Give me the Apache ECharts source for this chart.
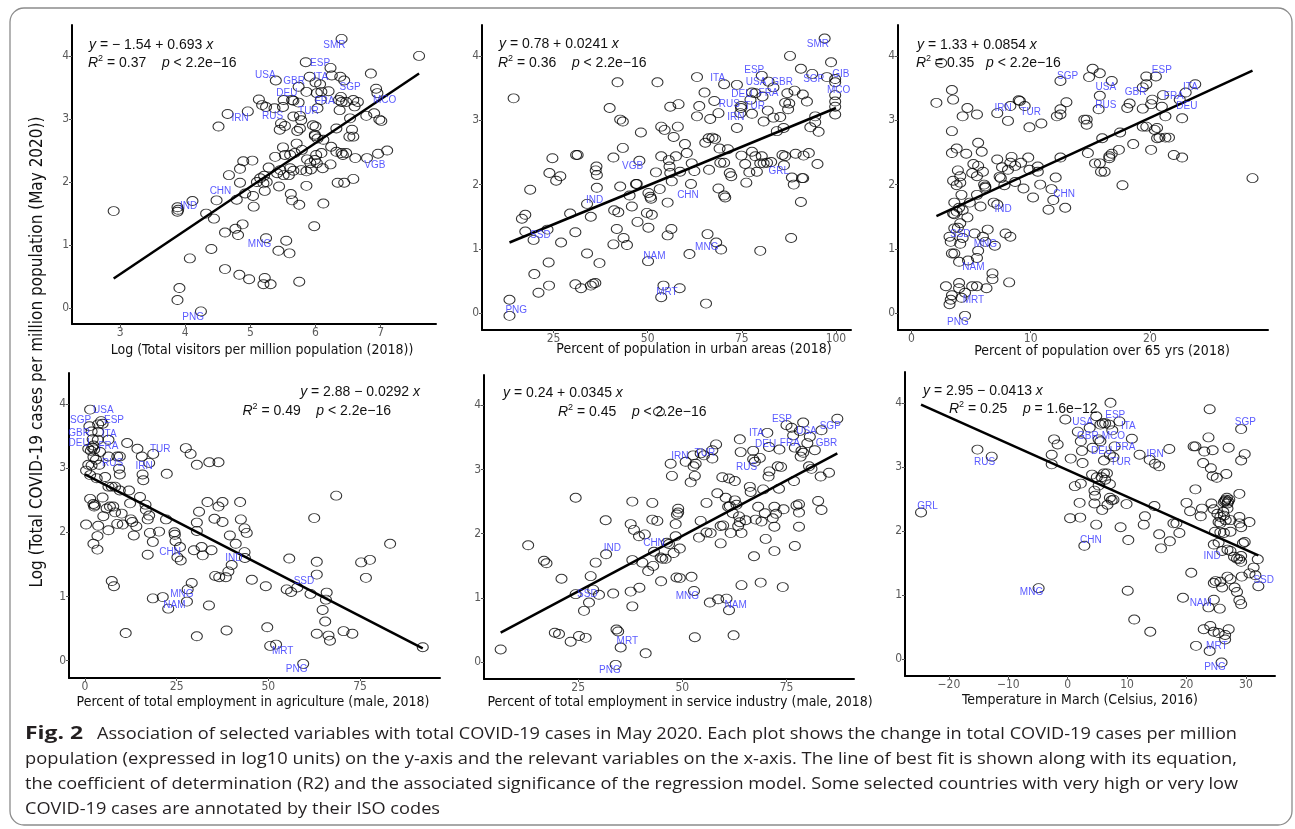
<!DOCTYPE html>
<html>
<head>
<meta charset="utf-8">
<script src="https://cdn.jsdelivr.net/npm/echarts@6.0.0/dist/echarts.min.js"></script>
<style>
html, body { margin: 0; padding: 0; background: #fff; }
#wrap { position: relative; width: 1295px; height: 829px; }
#chart { position: absolute; left: 0; top: 0; width: 1295px; height: 829px; }
#cap { position: absolute; left: 0; top: 0; pointer-events: none; }
#cap text { font-family: "Open Sans", "Noto Sans", sans-serif; font-size: 17px; fill: #231f20; }
</style>
</head>
<body>
<div id="wrap">
<div id="chart"></div>
<svg id="cap" width="1295" height="829">
  <rect x="10" y="8" width="1282" height="817" rx="14" ry="14" fill="none" stroke="#8c8c8c" stroke-width="1.3"></rect>
  <text x="25" y="739" textLength="58" lengthAdjust="spacingAndGlyphs" style="font-weight:bold;font-size:18px">Fig. 2</text>
  <text x="97" y="739" textLength="1140" lengthAdjust="spacingAndGlyphs">Association of selected variables with total COVID-19 cases in May 2020. Each plot shows the change in total COVID-19 cases per million</text>
  <text x="25" y="764" textLength="1212" lengthAdjust="spacingAndGlyphs">population (expressed in log10 units) on the y-axis and the relevant variables on the x-axis. The line of best fit is shown along with its equation,</text>
  <text x="25" y="789" textLength="1213" lengthAdjust="spacingAndGlyphs">the coefficient of determination (R2) and the associated significance of the regression model. Some selected countries with very high or very low</text>
  <text x="25" y="814" textLength="415" lengthAdjust="spacingAndGlyphs">COVID-19 cases are annotated by their ISO codes</text>
</svg>
</div>
<script>
// ---- data: [x, log10 cases per million] ----
var visitorsPoints = [[2.90,1.54],[3.88,1.60],[3.88,1.53],[3.89,1.56],[4.11,1.70],[3.91,0.32],[3.88,0.13],[4.24,-0.05],[4.07,0.79],[4.40,0.94],[4.32,1.50],[4.44,1.42],[4.48,1.71],[4.51,2.88],[4.65,3.08],[4.96,3.12],[4.61,1.20],[4.61,0.62],[4.77,1.26],[4.81,1.16],[4.88,1.33],[4.83,0.53],[4.98,0.46],[4.67,2.11],[4.84,2.21],[4.89,2.33],[4.84,1.99],[5.03,2.34],[4.79,1.72],[4.92,1.82],[5.04,1.78],[5.05,1.61],[5.10,2.00],[5.15,2.06],[5.20,1.98],[5.25,2.00],[5.22,1.86],[5.21,2.10],[5.28,2.23],[5.24,1.11],[5.22,0.48],[5.20,0.38],[5.31,0.38],[5.44,1.93],[5.43,0.91],[5.55,1.07],[5.60,0.87],[5.75,0.42],[5.62,1.81],[5.64,1.71],[5.75,1.64],[5.86,1.94],[5.98,1.30],[6.12,1.66],[5.41,2.14],[5.46,2.19],[5.51,2.11],[5.59,2.11],[5.61,2.22],[5.66,2.18],[5.38,2.40],[5.50,2.55],[5.53,2.43],[5.61,2.43],[5.68,2.46],[5.71,2.61],[5.79,2.51],[5.78,2.19],[5.86,2.17],[5.92,2.30],[5.93,2.20],[5.99,2.35],[5.87,2.36],[6.01,2.43],[6.02,2.30],[6.09,2.46],[6.11,2.22],[5.99,2.75],[6.03,2.69],[6.12,2.67],[6.24,2.56],[6.23,2.28],[6.32,2.48],[6.40,2.46],[6.42,2.43],[6.47,2.46],[6.34,1.99],[6.44,1.99],[6.58,2.05],[6.61,2.38],[6.79,2.38],[6.96,2.45],[7.10,2.50],[5.45,2.83],[5.47,2.93],[5.53,2.89],[5.13,3.31],[5.18,3.22],[5.24,3.19],[5.37,3.17],[5.50,3.19],[5.39,3.61],[5.51,3.30],[5.64,3.30],[5.66,3.29],[5.74,3.26],[5.74,3.51],[5.86,3.43],[5.91,3.67],[5.85,3.90],[6.00,3.58],[6.07,3.55],[6.09,3.43],[6.02,3.41],[6.20,3.44],[6.23,3.81],[6.25,3.69],[6.38,3.67],[6.44,3.61],[6.40,4.27],[7.59,4.00],[6.85,3.72],[6.93,3.48],[6.95,3.41],[6.90,3.09],[7.01,2.97],[6.98,2.99],[6.78,3.05],[5.66,3.04],[5.76,3.05],[5.78,2.98],[5.76,2.85],[5.72,2.81],[6.03,3.17],[6.32,2.85],[6.37,3.14],[6.40,3.27],[6.47,3.27],[6.58,3.30],[6.60,3.20],[6.53,3.01],[6.65,3.27],[6.56,2.83],[6.58,2.72],[6.52,2.72],[6.08,3.30],[6.39,3.35],[6.36,3.30],[5.99,2.73],[5.96,2.90],[6.00,2.88]];
var urbanPoints = [[14.4,3.34],[13.3,0.21],[13.3,-0.04],[16.6,1.47],[17.5,1.53],[18.8,1.92],[17.5,1.27],[19.7,1.14],[19.9,0.61],[21.0,0.32],[23.7,0.79],[23.8,0.43],[23.4,1.30],[24.7,2.41],[23.9,2.18],[25.7,2.06],[26.8,2.13],[27.0,1.10],[29.4,1.55],[30.8,1.26],[30.8,0.45],[32.3,0.39],[33.9,0.93],[34.9,1.50],[34.9,0.43],[35.5,0.46],[36.1,0.47],[37.2,0.78],[31.0,2.46],[31.4,2.46],[33.9,1.70],[36.4,2.28],[36.2,2.22],[36.5,2.15],[36.5,1.95],[39.9,3.19],[42.7,3.01],[43.4,2.98],[40.9,2.42],[43.4,2.57],[42.0,3.59],[42.7,1.97],[41.1,1.60],[42.2,1.57],[41.8,1.31],[40.9,1.07],[43.6,1.17],[44.5,1.06],[45.2,1.83],[45.8,1.66],[47.3,1.42],[46.9,2.01],[47.1,2.01],[47.8,2.37],[48.2,2.81],[50.2,1.87],[50.7,1.81],[50.9,1.78],[49.8,1.56],[51.1,1.53],[50.2,1.33],[50.1,0.81],[52.2,2.19],[53.2,1.93],[53.6,2.90],[54.5,2.85],[53.6,2.44],[55.3,1.72],[55.6,2.38],[56.0,3.21],[52.6,3.59],[55.8,2.28],[56.0,2.18],[56.4,2.05],[56.9,2.74],[57.5,2.44],[58.2,3.25],[58.0,2.90],[58.6,2.20],[59.9,2.63],[60.4,2.49],[56.3,1.31],[55.3,1.21],[54.2,0.43],[53.6,0.25],[58.5,0.39],[61.1,0.92],[61.5,2.01],[61.7,2.33],[62.4,2.21],[63.1,3.67],[63.1,3.06],[63.7,3.22],[65.1,3.43],[66.6,3.02],[67.7,3.30],[68.8,3.11],[65.3,2.65],[66.2,2.72],[67.2,2.73],[67.9,2.71],[66.3,2.23],[68.8,1.94],[69.1,2.56],[69.3,2.34],[70.3,2.34],[70.3,1.83],[70.6,1.80],[71.3,2.55],[71.8,2.18],[72.2,2.13],[65.9,1.23],[68.2,1.10],[69.5,0.99],[65.5,0.15],[70.3,3.56],[73.7,3.55],[74.8,3.22],[74.8,3.19],[74.6,3.11],[73.7,2.88],[74.9,2.45],[75.9,2.32],[76.2,2.03],[77.0,2.19],[77.7,2.51],[77.7,3.10],[77.3,3.32],[77.7,3.43],[78.6,3.42],[80.5,3.37],[80.8,2.98],[81.9,3.15],[80.3,3.69],[82.1,3.60],[83.4,3.51],[78.6,2.44],[79.0,2.20],[79.9,2.33],[80.3,2.44],[80.8,2.33],[81.7,2.34],[82.8,2.35],[79.9,0.97],[83.4,3.04],[84.3,2.83],[85.2,3.05],[86.1,2.88],[86.5,3.27],[87.1,3.42],[87.8,4.00],[87.3,3.17],[87.6,3.26],[85.8,2.46],[86.2,2.30],[86.5,2.44],[88.3,2.11],[88.8,2.00],[88.1,1.17],[89.0,3.46],[90.7,3.80],[91.2,3.40],[92.3,3.29],[93.7,3.72],[89.3,2.48],[91.0,2.10],[91.3,2.10],[91.4,2.45],[92.8,2.49],[90.7,1.73],[93.2,2.89],[94.5,3.06],[94.5,2.97],[95.4,2.82],[95.1,2.32],[97.0,4.27],[98.7,3.90],[97.6,3.67],[99.8,3.64],[99.8,3.59],[99.8,3.39],[99.8,3.29],[99.8,3.21],[99.8,3.09]];
var elderlyPoints = [[2.1,3.27],[2.5,3.89],[3.4,3.47],[3.5,3.32],[3.4,2.83],[3.8,2.56],[3.4,2.49],[4.3,3.06],[4.7,3.19],[5.5,3.09],[4.6,2.48],[5.6,2.65],[5.9,2.51],[3.9,2.22],[4.1,2.13],[3.5,2.06],[3.8,1.99],[4.1,2.03],[4.2,1.84],[3.6,1.72],[4.0,1.64],[4.3,1.60],[4.7,1.49],[3.5,1.55],[3.6,1.54],[3.8,1.58],[4.1,1.40],[3.9,1.33],[3.6,1.32],[3.2,1.19],[3.3,1.11],[3.4,0.93],[3.6,0.93],[4.1,1.08],[4.3,1.17],[4.0,0.80],[2.9,0.42],[3.4,0.28],[3.3,0.21],[3.2,0.14],[4.0,0.47],[4.0,0.39],[4.2,0.24],[4.5,0.32],[4.5,-0.04],[4.75,0.82],[5.1,0.42],[5.5,0.42],[6.3,0.39],[4.9,1.72],[5.1,2.18],[5.2,2.32],[5.5,2.13],[5.6,2.29],[6.0,2.20],[5.8,1.66],[5.5,1.84],[5.3,1.24],[5.6,0.97],[5.5,0.86],[6.0,1.19],[6.4,1.30],[6.2,1.11],[7.0,1.05],[6.1,2.00],[6.2,1.95],[6.2,1.97],[6.8,0.62],[6.8,0.53],[6.9,1.72],[7.2,1.69],[7.2,3.11],[7.2,2.39],[7.4,2.12],[7.5,2.10],[7.6,2.27],[7.8,1.99],[7.9,1.24],[8.1,2.23],[8.4,2.43],[8.3,2.34],[8.2,0.48],[8.3,1.19],[8.1,2.99],[8.3,3.22],[9.0,3.31],[9.1,3.30],[9.5,3.22],[8.7,2.29],[8.7,2.04],[9.2,2.34],[9.4,1.94],[9.8,2.42],[9.9,2.23],[10.6,2.28],[10.6,2.20],[10.8,2.00],[10.2,1.80],[9.9,2.89],[10.9,2.95],[11.5,1.61],[11.75,1.93],[11.9,1.76],[12.1,2.11],[12.9,1.64],[12.2,3.06],[12.5,3.09],[12.5,3.17],[13.0,3.28],[12.5,2.42],[12.5,3.61],[14.5,3.01],[14.7,2.93],[14.7,3.01],[14.8,2.49],[14.9,3.67],[15.2,3.80],[15.8,3.73],[16.8,3.61],[15.8,3.38],[15.7,3.17],[15.4,2.33],[15.8,2.33],[15.9,2.20],[16.2,2.20],[16.0,2.72],[16.6,2.41],[16.6,2.44],[16.8,2.48],[17.5,2.81],[17.4,2.54],[17.7,1.99],[18.6,2.63],[18.1,3.19],[18.3,3.26],[19.4,3.51],[19.7,3.56],[19.7,3.68],[20.2,3.32],[20.1,3.25],[19.4,3.18],[19.4,2.90],[19.7,2.90],[20.5,3.68],[20.1,2.54],[20.4,2.85],[20.6,2.88],[20.6,2.72],[20.8,2.73],[21.0,3.21],[21.1,3.39],[21.3,3.06],[21.3,2.73],[21.6,2.73],[22.0,2.46],[22.7,2.42],[22.7,3.03],[22.5,3.32],[23.0,3.43],[23.8,3.56],[28.6,2.10]];
var agriculturePoints = [[1.4,3.91],[1.2,3.65],[1.8,3.57],[2.1,3.45],[2.3,3.35],[2.0,3.32],[0.9,3.30],[1.6,3.27],[2.5,3.29],[3.6,3.68],[4.4,3.73],[4.8,3.69],[3.6,3.56],[3.5,3.44],[6.4,3.44],[4.1,3.25],[2.3,3.17],[3.0,3.13],[3.9,3.05],[0.9,3.05],[1.8,3.04],[6.4,3.18],[8.8,3.18],[9.5,3.18],[0.3,2.96],[1.4,2.89],[3.2,2.84],[5.5,2.86],[6.4,2.71],[7.3,2.71],[8.2,2.71],[9.3,2.99],[9.5,2.90],[11.5,3.39],[14.3,3.30],[15.5,3.18],[15.7,2.90],[15.9,2.81],[17.5,3.08],[18.6,3.22],[22.3,2.91],[27.5,3.31],[28.8,3.22],[30.5,3.05],[33.9,3.09],[36.4,3.09],[1.4,2.52],[2.5,2.40],[2.3,2.44],[2.7,2.42],[4.8,2.54],[5.9,2.37],[6.8,2.40],[7.7,2.40],[5.0,2.25],[8.2,2.31],[10.0,2.29],[10.3,2.12],[8.8,2.13],[0.3,2.12],[2.3,1.82],[3.4,1.94],[3.6,2.10],[3.4,1.73],[6.4,2.03],[9.5,2.65],[12.0,2.65],[12.3,2.45],[12.9,2.16],[12.5,2.20],[14.0,2.09],[13.3,1.95],[15.0,2.55],[16.5,2.43],[16.6,2.35],[17.1,2.20],[17.5,2.26],[17.7,1.99],[20.2,2.01],[18.5,1.85],[17.1,1.65],[22.1,2.20],[24.4,2.00],[24.5,1.96],[24.7,1.86],[25.9,1.77],[25.2,1.61],[26.1,1.56],[30.5,2.15],[30.5,2.02],[29.7,1.72],[31.8,1.77],[32.1,1.64],[34.5,1.72],[35.5,1.32],[36.6,1.30],[38.4,1.30],[39.1,1.39],[40.0,1.49],[31.1,2.32],[33.4,2.47],[35.3,2.21],[36.4,2.40],[37.5,2.16],[37.5,2.47],[39.5,1.95],[41.1,1.82],[42.3,2.47],[42.5,2.20],[43.5,2.06],[44.1,1.99],[43.5,1.69],[43.6,1.60],[7.3,1.24],[7.9,1.16],[11.1,0.43],[18.5,0.97],[21.2,0.99],[22.7,0.81],[28.0,1.11],[29.1,1.21],[27.8,0.92],[30.5,0.38],[33.8,0.86],[38.6,0.47],[45.5,1.26],[49.3,1.16],[49.7,0.52],[50.5,0.23],[52.1,0.25],[55.0,1.11],[56.2,1.07],[57.9,1.14],[55.7,1.59],[59.5,-0.05],[61.5,1.04],[63.2,1.54],[63.2,1.34],[64.8,0.79],[65.5,0.61],[65.9,1.06],[65.7,0.95],[66.4,0.39],[66.8,0.31],[62.5,2.22],[63.2,0.42],[68.5,2.57],[70.5,0.46],[72.9,0.42],[75.3,1.53],[76.6,1.29],[77.7,1.57],[83.2,1.82],[92.1,0.21]];
var servicePoints = [[6.4,0.20],[13.0,1.82],[16.8,1.58],[17.4,1.54],[19.4,0.46],[20.4,0.44],[21.0,1.30],[23.2,0.32],[24.4,2.56],[24.4,1.06],[25.2,0.41],[26.8,0.38],[26.4,0.80],[27.6,0.93],[28.6,1.13],[30.0,1.05],[28.0,1.34],[29.2,1.55],[31.6,2.21],[31.7,1.68],[33.4,1.07],[34.2,0.51],[34.6,0.48],[35.2,0.23],[34.0,-0.04],[37.6,2.15],[38.4,2.06],[39.6,1.96],[41.0,1.99],[38.0,2.50],[38.0,0.87],[37.6,1.10],[38.0,1.59],[39.7,1.16],[40.4,1.55],[41.8,1.42],[43.0,1.50],[41.2,0.14],[42.8,2.48],[42.8,2.22],[44.0,2.20],[43.2,1.72],[44.8,1.63],[45.2,1.61],[46.0,1.61],[46.3,1.86],[46.8,1.84],[47.9,1.70],[49.4,1.77],[44.9,1.26],[44.4,3.90],[47.2,3.09],[47.5,2.90],[48.4,2.15],[48.4,1.96],[49.0,2.39],[49.0,2.33],[48.7,2.30],[48.6,1.32],[49.4,1.31],[50.8,3.12],[52.0,2.80],[52.6,3.22],[52.7,3.05],[53.0,2.90],[53.2,3.09],[54.4,3.25],[55.2,3.22],[57.2,3.17],[57.2,3.30],[58.1,3.39],[52.2,1.33],[52.8,1.11],[53.0,0.39],[54.0,1.94],[54.4,2.20],[55.8,2.48],[55.8,2.02],[56.8,2.01],[56.6,0.93],[58.6,0.98],[60.6,0.99],[59.2,1.85],[59.2,2.12],[59.8,2.13],[58.4,2.63],[60.4,2.56],[61.0,2.42],[61.4,2.43],[61.6,2.01],[62.6,2.82],[63.8,3.47],[64.0,3.27],[61.2,0.81],[62.3,0.42],[64.2,1.20],[59.6,2.88],[61.2,2.86],[62.1,2.32],[62.6,2.52],[63.0,2.45],[63.4,2.12],[63.6,2.27],[63.8,2.18],[64.2,2.01],[65.2,2.21],[66.2,2.73],[66.4,2.65],[67.0,3.29],[67.4,3.12],[67.0,3.16],[67.2,1.65],[67.6,2.22],[68.2,2.42],[69.0,2.19],[69.4,2.69],[68.8,1.24],[68.6,3.18],[69.8,2.32],[70.0,1.92],[70.4,3.57],[70.8,3.35],[70.7,2.89],[70.9,2.97],[71.7,2.24],[72.1,2.42],[72.1,2.11],[72.1,1.73],[72.5,2.31],[72.9,3.05],[73.3,3.31],[73.2,2.70],[73.7,3.04],[74.1,1.17],[74.3,2.38],[75.0,3.69],[76.2,3.65],[76.6,3.53],[77.0,3.34],[76.8,2.82],[77.0,1.81],[77.4,2.44],[78.0,2.33],[78.0,2.46],[78.0,2.11],[78.4,3.20],[78.2,3.60],[79.0,3.73],[78.6,3.29],[79.0,3.26],[80.0,3.41],[80.4,3.05],[81.0,3.01],[80.6,3.51],[81.8,3.30],[82.6,2.51],[83.2,2.89],[83.4,2.37],[83.4,3.61],[85.2,2.95],[87.2,3.79]];
var temperaturePoints = [[-24.7,2.29],[-15.2,3.27],[-12.8,3.16],[-4.9,1.11],[-2.7,3.19],[-2.7,3.04],[-2.3,3.43],[-1.7,3.35],[-0.4,3.74],[0.4,2.20],[0.5,3.13],[1.2,2.70],[2.2,2.74],[2.0,2.44],[2.1,2.21],[1.7,3.55],[2.2,3.40],[2.4,3.25],[2.5,3.06],[2.8,1.77],[3.7,3.61],[4.2,3.30],[4.8,3.79],[5.2,3.43],[5.5,3.66],[5.5,3.40],[5.9,3.68],[6.3,3.68],[7.0,3.66],[7.5,3.57],[7.9,3.32],[8.7,3.71],[10.8,3.44],[7.2,4.00],[4.1,2.88],[4.5,2.63],[4.6,2.55],[4.5,2.43],[4.9,2.84],[5.2,2.71],[5.7,2.84],[6.1,2.90],[6.6,2.90],[6.3,2.80],[7.1,2.73],[4.8,2.10],[5.8,2.33],[6.7,2.41],[7.1,2.52],[7.4,2.48],[7.7,2.49],[6.1,3.10],[7.1,3.19],[7.7,3.15],[8.9,2.06],[9.9,2.42],[10.2,1.86],[10.1,1.07],[11.2,0.62],[12.1,3.19],[13.8,3.11],[14.7,3.05],[15.4,3.01],[17.1,3.28],[13.0,2.23],[12.8,2.10],[14.6,2.39],[15.4,1.95],[15.7,1.73],[17.2,1.84],[17.8,2.12],[18.3,2.12],[18.8,1.97],[13.9,0.43],[19.4,0.96],[20.8,1.35],[20.0,2.44],[20.6,2.31],[21.5,2.65],[21.2,3.32],[21.5,3.32],[22.4,2.23],[22.6,2.35],[22.8,3.06],[23.0,3.24],[23.9,3.90],[23.7,3.46],[24.1,2.98],[24.4,3.26],[24.4,2.86],[25.1,2.83],[26.7,2.89],[27.1,3.30],[24.2,2.43],[24.6,2.34],[25.2,2.27],[25.7,2.22],[26.3,2.45],[26.6,2.49],[26.9,2.43],[27.2,2.49],[26.9,2.35],[26.3,2.24],[25.4,2.14],[25.7,2.12],[26.6,2.17],[27.4,2.17],[24.8,1.99],[25.7,1.98],[26.3,1.97],[27.4,1.99],[28.9,2.58],[28.9,2.22],[28.9,2.12],[29.2,2.06],[29.8,1.83],[29.5,1.81],[30.6,2.14],[29.2,3.10],[29.8,3.20],[29.2,3.59],[24.6,1.79],[25.4,1.82],[26.0,1.69],[26.9,1.71],[27.4,1.69],[28.0,1.60],[28.5,1.57],[28.9,1.56],[29.2,1.61],[29.2,1.52],[24.6,1.19],[24.9,1.22],[25.7,1.21],[26.0,1.12],[26.9,1.29],[27.4,1.25],[28.1,1.12],[28.5,1.05],[28.9,0.92],[29.2,0.86],[29.3,1.29],[30.6,1.34],[31.3,1.43],[32.0,1.56],[32.1,1.14],[31.6,1.31],[23.7,0.81],[25.6,0.79],[24.6,0.93],[22.9,0.47],[24.0,0.52],[24.6,0.43],[25.4,0.41],[26.5,0.38],[27.1,0.47],[26.5,0.31],[21.6,0.21],[23.9,0.13],[25.9,-0.05],[26.5,2.47],[26.8,2.52],[27.0,2.46],[26.2,2.30]];

// country codes: [iso, x, y] where the text sits
var visitorsLabels = [['SMR',6.29,4.17],['ESP',6.07,3.88],['USA',5.23,3.70],['GBR',5.67,3.60],['ITA',6.08,3.66],['SGP',6.53,3.50],['DEU',5.56,3.41],['FRA',6.14,3.28],['MCO',7.06,3.29],['TUR',5.89,3.12],['RUS',5.34,3.05],['IRN',4.84,3.01],['VGB',6.91,2.26],['CHN',4.54,1.86],['IND',4.05,1.61],['MNG',5.14,1.01],['PNG',4.12,-0.15]];
var urbanLabels = [['SMR',95.2,4.18],['ESP',78.3,3.78],['ITA',68.6,3.66],['GIB',101.3,3.72],['SGP',94.1,3.63],['USA',78.8,3.59],['GBR',85.7,3.59],['MCO',100.7,3.47],['DEU',75.0,3.41],['FRA',82.1,3.42],['RUS',71.7,3.25],['TUR',78.4,3.21],['IRN',73.4,3.05],['VGB',46.0,2.28],['GRL',84.8,2.21],['IND',35.9,1.76],['CHN',60.7,1.84],['SSD',21.5,1.22],['MNG',65.7,1.02],['NAM',51.8,0.88],['MRT',55.1,0.32],['PNG',15.1,0.04]];
var elderlyLabels = [['SGP',13.1,3.69],['ESP',21.0,3.78],['USA',16.3,3.52],['ITA',23.4,3.51],['GBR',18.8,3.43],['FRA',22.0,3.38],['RUS',16.3,3.24],['DEU',23.1,3.22],['IRN',7.7,3.19],['TUR',10.0,3.13],['CHN',12.8,1.85],['IND',7.7,1.61],['SSD',4.1,1.23],['MNG',6.2,1.07],['NAM',5.2,0.72],['MRT',5.2,0.20],['PNG',3.9,-0.14]];
var agricultureLabels = [['USA',5.0,3.90],['SGP',-1.2,3.74],['ESP',7.9,3.74],['GBR',-1.6,3.54],['ITA',6.6,3.52],['DEU',-1.6,3.38],['FRA',6.4,3.34],['TUR',20.5,3.30],['RUS',7.5,3.08],['IRN',16.1,3.02],['CHN',23.2,1.69],['IND',40.6,1.60],['SSD',59.7,1.23],['MNG',26.4,1.03],['NAM',24.4,0.86],['MRT',53.9,0.15],['PNG',57.7,-0.14]];
var serviceLabels = [['ESP',73.9,3.78],['SGP',85.5,3.68],['ITA',67.8,3.56],['USA',79.8,3.59],['DEU',70.0,3.39],['FRA',75.8,3.41],['GBR',84.6,3.41],['IRN',49.4,3.20],['TUR',55.4,3.25],['RUS',65.4,3.03],['CHN',43.2,1.85],['IND',33.2,1.77],['SSD',27.2,1.06],['MNG',51.2,1.02],['NAM',62.8,0.88],['MRT',36.8,0.32],['PNG',32.6,-0.13]];
var temperatureLabels = [['ESP',8.0,3.80],['USA',2.5,3.69],['SGP',29.9,3.70],['ITA',10.2,3.63],['GBR',3.4,3.48],['MCO',7.7,3.48],['FRA',9.7,3.31],['DEU',5.7,3.24],['IRN',14.7,3.19],['RUS',-14.0,3.08],['TUR',8.9,3.08],['GRL',-23.6,2.38],['CHN',3.9,1.85],['IND',24.3,1.61],['SSD',33.0,1.23],['MNG',-6.1,1.04],['NAM',22.4,0.88],['MRT',25.1,0.21],['PNG',24.8,-0.13]];

// fitted line end points as drawn
var visitorsLine = [[2.90,0.47],[7.59,3.72]];
var urbanLine = [[13.3,1.10],[100,3.19]];
var elderlyLine = [[2.1,1.51],[28.6,3.77]];
var agricultureLine = [[0,2.90],[92.1,0.19]];
var serviceLine = [[6.4,0.46],[87.2,3.25]];
var temperatureLine = [[-24.7,3.97],[32.1,1.62]];

var visitorsTicks = [3,4,5,6,7];
var urbanTicks = [25,50,75,100];
var elderlyTicks = [0,10,20];
var agricultureTicks = [0,25,50,75];
var serviceTicks = [25,50,75];
var temperatureTicks = [-20,-10,0,10,20,30];
var yTicks = [0,1,2,3,4];

var xTitles = ['Log (Total visitors per million population (2018))', 'Percent of population in urban areas (2018)', 'Percent of population over 65 yrs (2018)', 'Percent of total employment in agriculture (male, 2018)', 'Percent of total employment in service industry (male, 2018)', 'Temperature in March (Celsius, 2016)'];
var yTitle = 'Log (Total COVID-19 cases per million population (May 2020))';
var fitEquations = [
	['{i|y} = \u2212 1.54 + 0.693 {i|x}', '{i|R}{s|2} = 0.37    {i|p} < 2.2e\u221216'],
	['{i|y} = 0.78 + 0.0241 {i|x}', '{i|R}{s|2} = 0.36    {i|p} < 2.2e\u221216'],
	['{i|y} = 1.33 + 0.0854 {i|x}', '{i|R}{s|2} = 0.35   {i|p} < 2.2e\u221216'],
	['{i|y} = 2.88 \u2212 0.0292 {i|x}', '{i|R}{s|2} = 0.49    {i|p} < 2.2e\u221216'],
	['{i|y} = 0.24 + 0.0345 {i|x}', '{i|R}{s|2} = 0.45    {i|p} < 2.2e\u221216'],
	['{i|y} = 2.95 \u2212 0.0413 {i|x}', '{i|R}{s|2} = 0.25    {i|p} = 1.6e\u221212']
];

// ---- layout (pixels) ----
var panels = [
	{pts: visitorsPoints, labels: visitorsLabels, line: visitorsLine, ticks: visitorsTicks,
	 grid: {left: 72, top: 25, width: 364, height: 299}, xr: [2.26, 7.85], yr: [-0.25, 4.49],
	 title: [262, 350], eq: [[89, 45, 'left'], [88, 63, 'left']]},
	{pts: urbanPoints, labels: urbanLabels, line: urbanLine, ticks: urbanTicks,
	 grid: {left: 482, top: 25, width: 369, height: 305}, xr: [6, 104], yr: [-0.26, 4.48],
	 title: [694, 349], eq: [[499, 44, 'left'], [498, 63, 'left']]},
	{pts: elderlyPoints, labels: elderlyLabels, line: elderlyLine, ticks: elderlyTicks,
	 grid: {left: 898, top: 25, width: 370, height: 305}, xr: [-1.12, 29.9], yr: [-0.26, 4.48],
	 title: [1102, 351], eq: [[917, 45, 'left'], [916, 63, 'left']]},
	{pts: agriculturePoints, labels: agricultureLabels, line: agricultureLine, ticks: agricultureTicks,
	 grid: {left: 69, top: 373, width: 371, height: 305}, xr: [-4.36, 96.8], yr: [-0.27, 4.48],
	 title: [253, 702], eq: [[420, 392, 'right'], [391, 411, 'right']]},
	{pts: servicePoints, labels: serviceLabels, line: serviceLine, ticks: serviceTicks,
	 grid: {left: 484, top: 375, width: 370, height: 304}, xr: [2.4, 91.2], yr: [-0.26, 4.47],
	 title: [680, 702], eq: [[503, 393, 'left'], [558, 412, 'left']]},
	{pts: temperaturePoints, labels: temperatureLabels, line: temperatureLine, ticks: temperatureTicks,
	 grid: {left: 905, top: 372, width: 370, height: 304}, xr: [-27.4, 34.9], yr: [-0.26, 4.48],
	 title: [1080, 700], eq: [[923, 391, 'left'], [949, 409, 'left']]}
];

var titleFont = '"DejaVu Sans Condensed", "Liberation Sans Narrow", "Liberation Sans", sans-serif';
var textFont = '"Liberation Sans", Arial, sans-serif';

function fmtTick(v) {
	return v < 0 ? '\u2212' + Math.abs(v) : String(v);
}

var grids = [], xAxes = [], yAxes = [], series = [], graphics = [];
for (var i = 0; i < panels.length; i++) {
	var p = panels[i];
	grids.push({left: p.grid.left, top: p.grid.top, width: p.grid.width, height: p.grid.height, containLabel: false});
	xAxes.push({
		type: 'value', gridIndex: i, min: p.xr[0], max: p.xr[1],
		splitLine: {show: false},
		axisLine: {show: true, onZero: false, lineStyle: {color: '#000', width: 2}},
		axisTick: {show: true, length: 3, customValues: p.ticks, lineStyle: {color: '#555'}},
		axisLabel: {show: true, customValues: p.ticks, formatter: fmtTick, color: '#5a5a5a', fontSize: 12, margin: 3, fontFamily: titleFont}
	});
	yAxes.push({
		type: 'value', gridIndex: i, min: p.yr[0], max: p.yr[1],
		splitLine: {show: false},
		axisLine: {show: true, onZero: false, lineStyle: {color: '#000', width: 2}},
		axisTick: {show: true, length: 3, customValues: yTicks, lineStyle: {color: '#555'}},
		axisLabel: {show: true, customValues: yTicks, color: '#5a5a5a', fontSize: 12, margin: 3, fontFamily: titleFont}
	});
	series.push({
		type: 'scatter', xAxisIndex: i, yAxisIndex: i, data: p.pts,
		symbol: 'circle', symbolSize: [11, 9], silent: true,
		itemStyle: {color: 'rgba(0,0,0,0)', borderColor: '#000', borderWidth: 1}
	});
	series.push({
		type: 'line', xAxisIndex: i, yAxisIndex: i, data: p.line,
		showSymbol: false, silent: true, z: 3,
		lineStyle: {color: '#000', width: 2.5}
	});
	series.push({
		type: 'scatter', xAxisIndex: i, yAxisIndex: i, silent: true, z: 4,
		symbolSize: 1, itemStyle: {color: 'rgba(0,0,0,0)'},
		data: p.labels.map(function(l) { return {name: l[0], value: [l[1], l[2]]}; }),
		label: {show: true, position: 'inside', formatter: '{b}', color: '#2f2fff', fontSize: 10, fontFamily: textFont}
	});
	graphics.push({
		type: 'text', x: p.title[0], y: p.title[1],
		style: {text: xTitles[i], font: '14px ' + titleFont, fill: '#111', align: 'center', verticalAlign: 'middle'}
	});
	for (var k = 0; k < 2; k++) {
		graphics.push({
			type: 'text', x: p.eq[k][0], y: p.eq[k][1], z: 10,
			style: {
				text: fitEquations[i][k], fill: '#111', align: p.eq[k][2], verticalAlign: 'middle',
				fontSize: 14, fontFamily: textFont, lineHeight: 18,
				rich: {
					i: {fontStyle: 'italic', fontSize: 14, fontFamily: textFont, lineHeight: 18, fill: '#111'},
					s: {fontSize: 9, fontFamily: textFont, verticalAlign: 'top', lineHeight: 18, fill: '#111'}
				}
			}
		});
	}
}
graphics.push({
	type: 'text', x: 38, y: 352, rotation: Math.PI / 2,
	style: {text: yTitle, font: '17px ' + titleFont, fill: '#111', align: 'center', verticalAlign: 'middle'}
});

var chart = echarts.init(document.getElementById('chart'), null, {renderer: 'canvas'});
chart.setOption({
	animation: false,
	backgroundColor: '#fff',
	grid: grids,
	xAxis: xAxes,
	yAxis: yAxes,
	series: series,
	graphic: graphics
});
</script>
</body>
</html>
